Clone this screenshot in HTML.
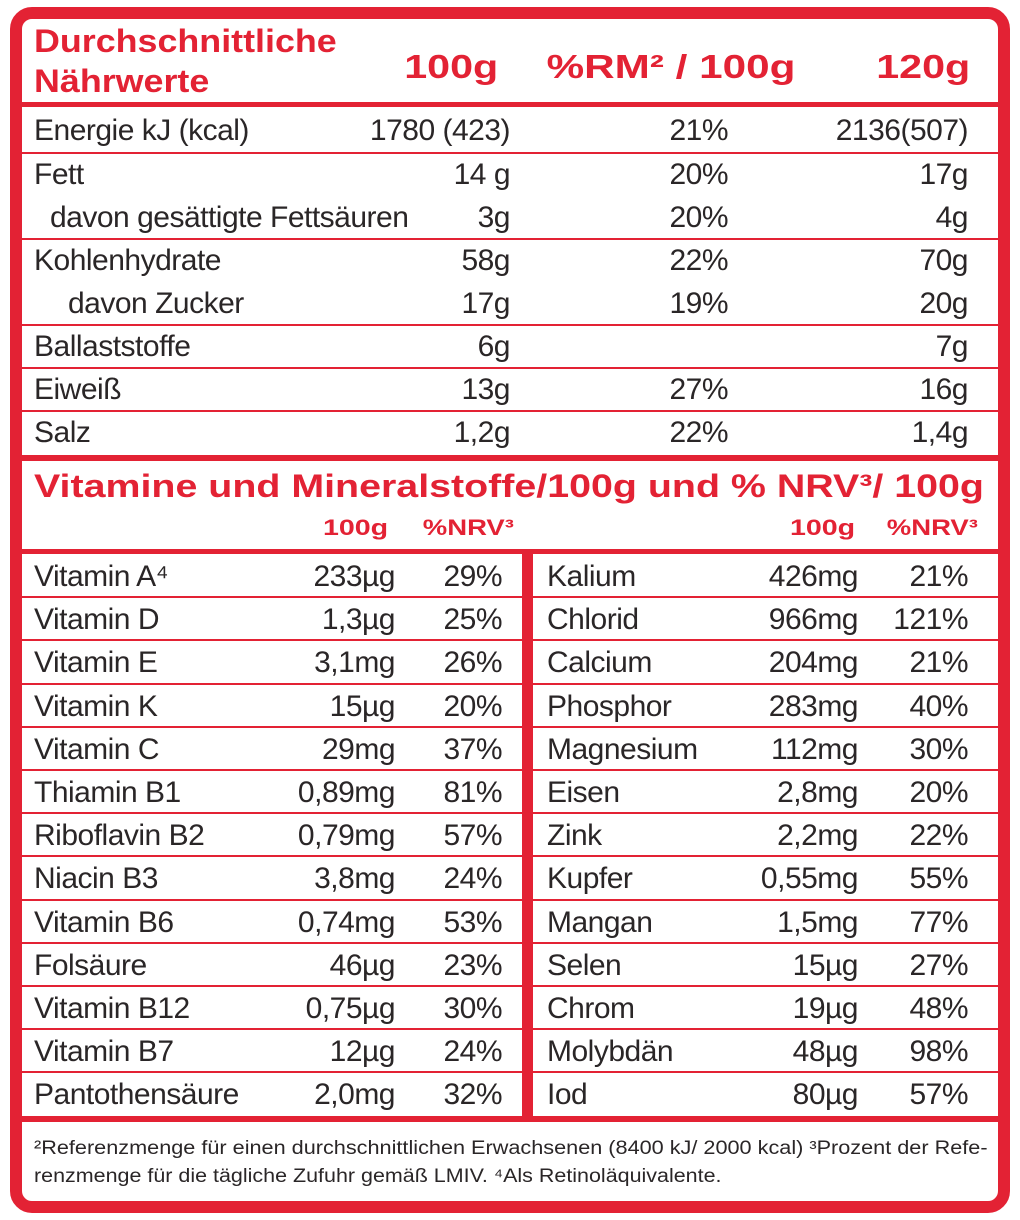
<!DOCTYPE html>
<html><head><meta charset="utf-8"><style>
*{margin:0;padding:0;box-sizing:border-box}
body{width:1020px;height:1220px;background:#fff;position:relative;overflow:hidden;font-family:"Liberation Sans",sans-serif;color:#2a2627}
.frame{position:absolute;left:10px;top:7px;width:1000px;height:1206px;border:12px solid #e32234;border-radius:22px}
.h{position:absolute;height:2px;background:#e32234}
.H{position:absolute;background:#e32234}
.t{position:absolute;white-space:nowrap;font-size:30px;line-height:43px;letter-spacing:-0.5px}
.r{text-align:right}
.b{font-weight:bold;color:#e32234;letter-spacing:0}
.sl{transform-origin:left center}
.sr{transform-origin:right center}
</style></head><body>
<div class="frame"></div>
<div class="H" style="left:22px;top:102px;width:977px;height:5px"></div>
<div class="H" style="left:22px;top:455px;width:977px;height:6px"></div>
<div class="H" style="left:22px;top:549px;width:977px;height:5px"></div>
<div class="H" style="left:22px;top:1116px;width:977px;height:6px"></div>
<div class="H" style="left:522px;top:549px;width:11px;height:573px"></div>

<div class="t b sl" style="left:34px;top:21px;font-size:32px;line-height:40px;transform:scaleX(1.12)">Durchschnittliche<br>Nährwerte</div>
<div class="t b r sr" style="right:522px;top:45px;font-size:33px;transform:scaleX(1.25)">100g</div>
<div class="t b r sr" style="right:225px;top:45px;font-size:33px;transform:scaleX(1.28)">%RM² / 100g</div>
<div class="t b r sr" style="right:50px;top:45px;font-size:33px;transform:scaleX(1.25)">120g</div>

<div class="h" style="left:22px;top:152px;width:977px"></div>
<div class="h" style="left:22px;top:238px;width:977px"></div>
<div class="h" style="left:22px;top:324px;width:977px"></div>
<div class="h" style="left:22px;top:367px;width:977px"></div>
<div class="h" style="left:22px;top:410px;width:977px"></div>

<div class="t" style="left:34px;top:109px">Energie kJ (kcal)</div><div class="t r" style="right:510px;top:109px">1780 (423)</div><div class="t r" style="right:292px;top:109px">21%</div><div class="t r" style="right:52px;top:109px">2136(507)</div>
<div class="t" style="left:34px;top:153px">Fett</div><div class="t r" style="right:510px;top:153px">14 g</div><div class="t r" style="right:292px;top:153px">20%</div><div class="t r" style="right:52px;top:153px">17g</div>
<div class="t" style="left:50px;top:196px">davon gesättigte Fettsäuren</div><div class="t r" style="right:510px;top:196px">3g</div><div class="t r" style="right:292px;top:196px">20%</div><div class="t r" style="right:52px;top:196px">4g</div>
<div class="t" style="left:34px;top:239px">Kohlenhydrate</div><div class="t r" style="right:510px;top:239px">58g</div><div class="t r" style="right:292px;top:239px">22%</div><div class="t r" style="right:52px;top:239px">70g</div>
<div class="t" style="left:68px;top:282px">davon Zucker</div><div class="t r" style="right:510px;top:282px">17g</div><div class="t r" style="right:292px;top:282px">19%</div><div class="t r" style="right:52px;top:282px">20g</div>
<div class="t" style="left:34px;top:325px">Ballaststoffe</div><div class="t r" style="right:510px;top:325px">6g</div><div class="t r" style="right:52px;top:325px">7g</div>
<div class="t" style="left:34px;top:368px">Eiweiß</div><div class="t r" style="right:510px;top:368px">13g</div><div class="t r" style="right:292px;top:368px">27%</div><div class="t r" style="right:52px;top:368px">16g</div>
<div class="t" style="left:34px;top:411px">Salz</div><div class="t r" style="right:510px;top:411px">1,2g</div><div class="t r" style="right:292px;top:411px">22%</div><div class="t r" style="right:52px;top:411px">1,4g</div>

<div class="t b sl" style="left:34px;top:465px;font-size:32px;transform:scaleX(1.23)">Vitamine und Mineralstoffe/100g und % NRV³/ 100g</div>
<div class="t b r sr" style="right:632px;top:506px;font-size:22px;transform:scaleX(1.3)">100g</div>
<div class="t b r sr" style="right:506px;top:506px;font-size:22px;transform:scaleX(1.25)">%NRV³</div>
<div class="t b r sr" style="right:165px;top:506px;font-size:22px;transform:scaleX(1.3)">100g</div>
<div class="t b r sr" style="right:42px;top:506px;font-size:22px;transform:scaleX(1.25)">%NRV³</div>

<div id="v"></div>
<script>
var L=[["Vitamin A⁴","233µg","29%"],["Vitamin D","1,3µg","25%"],["Vitamin E","3,1mg","26%"],["Vitamin K","15µg","20%"],["Vitamin C","29mg","37%"],["Thiamin B1","0,89mg","81%"],["Riboflavin B2","0,79mg","57%"],["Niacin B3","3,8mg","24%"],["Vitamin B6","0,74mg","53%"],["Folsäure","46µg","23%"],["Vitamin B12","0,75µg","30%"],["Vitamin B7","12µg","24%"],["Pantothensäure","2,0mg","32%"]];
var R=[["Kalium","426mg","21%"],["Chlorid","966mg","121%"],["Calcium","204mg","21%"],["Phosphor","283mg","40%"],["Magnesium","112mg","30%"],["Eisen","2,8mg","20%"],["Zink","2,2mg","22%"],["Kupfer","0,55mg","55%"],["Mangan","1,5mg","77%"],["Selen","15µg","27%"],["Chrom","19µg","48%"],["Molybdän","48µg","98%"],["Iod","80µg","57%"]];
var h="";
for(var i=0;i<13;i++){var y=Math.round(555+i*43.2);
if(i>0){var ly=Math.round(554+i*43.2)-1;h+='<div class="h" style="left:22px;top:'+ly+'px;width:500px"></div><div class="h" style="left:533px;top:'+ly+'px;width:466px"></div>';}
h+='<div class="t" style="left:34px;top:'+y+'px">'+L[i][0]+'</div><div class="t r" style="right:625px;top:'+y+'px">'+L[i][1]+'</div><div class="t r" style="right:518px;top:'+y+'px">'+L[i][2]+'</div>';
h+='<div class="t" style="left:547px;top:'+y+'px">'+R[i][0]+'</div><div class="t r" style="right:162px;top:'+y+'px">'+R[i][1]+'</div><div class="t r" style="right:52px;top:'+y+'px">'+R[i][2]+'</div>';}
document.getElementById("v").innerHTML=h;
</script>
<div class="sl" style="position:absolute;left:34px;top:1135px;font-size:19px;line-height:28px;white-space:nowrap;transform:scaleX(1.14)">²Referenzmenge für einen durchschnittlichen Erwachsenen (8400 kJ/ 2000 kcal) ³Prozent der Refe-</div>
<div class="sl" style="position:absolute;left:34px;top:1163px;font-size:19px;line-height:28px;white-space:nowrap;transform:scaleX(1.13)">renzmenge für die tägliche Zufuhr gemäß LMIV. ⁴Als Retinoläquivalente.</div>
</body></html>
